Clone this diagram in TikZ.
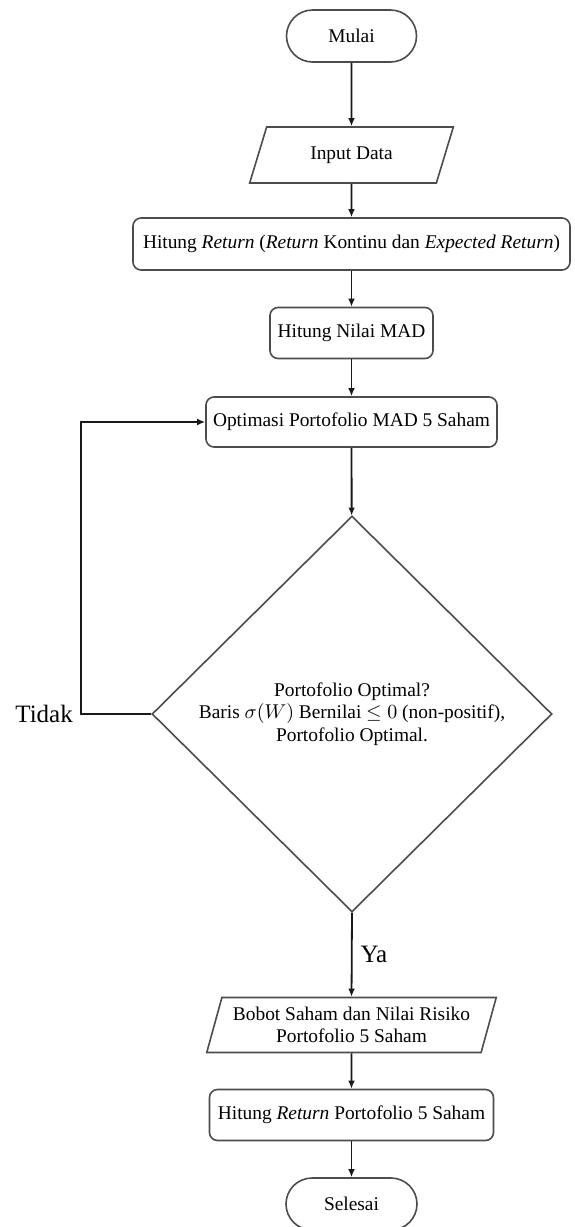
\documentclass[tikz,border=0pt]{standalone}
\usepackage{fontspec}
\setmainfont{Liberation Serif}
\usetikzlibrary{shapes.geometric,arrows.meta}

\tikzset{
  base/.style={draw=black!70, line width=0.8pt, inner sep=2pt, align=center,
    font=\fontsize{9.7}{11.2}\selectfont},
  terminal/.style={base, rectangle, rounded corners=13pt, minimum width=65pt, minimum height=26pt},
  prosesbox/.style={base, rectangle, rounded corners=4pt, minimum height=25.5pt},
  iobox/.style={base, trapezium, trapezium left angle=70, trapezium right angle=110,
    trapezium stretches, minimum height=28pt},
  keputusan/.style={base, diamond, inner sep=0pt, minimum width=200pt, minimum height=198pt},
  arrow/.style={draw=black!90, line width=0.9pt, -{Latex[length=4pt,width=3.4pt]}},
  lbl/.style={font=\fontsize{12.5}{15}\selectfont, inner sep=2pt}
}

\begin{document}
\begin{tikzpicture}[x=0.5pt, y=-0.5pt]
  \useasboundingbox (0,0) rectangle (574,1227);

  \node[terminal] (mulai) at (351.5, 36) {Mulai};
  \node[iobox, minimum width=102pt] (input) at (351.5, 155) {Input Data};
  \node[prosesbox, minimum width=218.5pt, minimum height=26pt] (hitungreturn) at (351.5, 244)
    {Hitung \textit{Return} (\textit{Return} Kontinu dan \textit{Expected Return})};
  \node[prosesbox, minimum width=81.5pt] (mad) at (351.5, 333) {Hitung Nilai MAD};
  \node[prosesbox, minimum width=145.5pt, minimum height=25pt] (optimasi) at (351.5, 422)
    {Optimasi Portofolio MAD 5 Saham};
  \node[keputusan] (cek) at (352, 714)
    {Portofolio Optimal?\\ Baris $\sigma(W)$ Bernilai $\leq 0$ (non-positif),\\ Portofolio Optimal.};
  \node[iobox, minimum width=145pt, minimum height=27.5pt,
    trapezium left angle=72, trapezium right angle=108] (bobot) at (351.5, 1025)
    {Bobot Saham dan Nilai Risiko\\ Portofolio 5 Saham};
  \node[prosesbox, minimum width=142pt] (returnporto) at (351.5, 1115)
    {Hitung \textit{Return} Portofolio 5 Saham};
  \node[terminal, minimum width=65.5pt] (selesai) at (351.5, 1204) {Selesai};

  \draw[arrow] (mulai) -- (input);
  \draw[arrow] (input) -- (hitungreturn);
  \draw[arrow] (hitungreturn) -- (mad);
  \draw[arrow] (mad) -- (optimasi);
  \draw[arrow] (optimasi) -- (cek);
  \draw[arrow] (cek.south) -- node[lbl, right, xshift=2pt] (ya) {Ya} (bobot.north);
  \draw[arrow] (bobot) -- (returnporto);
  \draw[arrow] (returnporto) -- (selesai);

  % kembali ke optimasi
  \draw[arrow] (cek.west) -- ++(-70,0) coordinate (belok) |- (optimasi.west);
  \node[lbl, left, xshift=-2pt] (tidak) at (belok) {Tidak};
\end{tikzpicture}
\end{document}
